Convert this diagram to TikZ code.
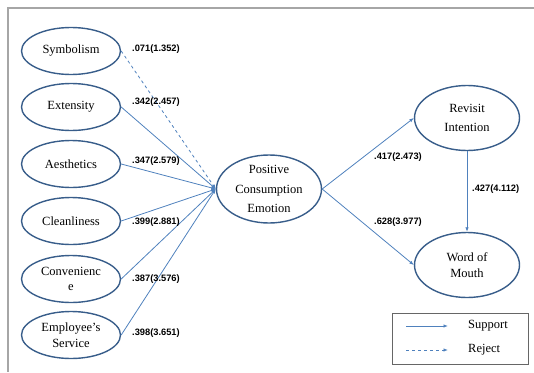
\documentclass[tikz,border=0pt]{standalone}
\usepackage{fontspec}
\setmainfont{Liberation Serif}
\newfontfamily\lblfont{Liberation Sans}
\usetikzlibrary{arrows.meta,shapes.geometric}
\definecolor{ellblue}{RGB}{56,93,138}
\definecolor{arrblue}{RGB}{79,129,189}
\begin{document}
\begin{tikzpicture}[x=1pt,y=-1pt,
    var/.style={ellipse,draw=ellblue,line width=1.4pt,minimum width=99pt,minimum height=47pt,inner sep=0pt,align=center,font=\fontsize{12.5}{15.5}\selectfont},
    path/.style={arrblue,line width=0.8pt,-{Latex[length=4.5pt,width=3.5pt]}},
    coef/.style={inner sep=0pt,anchor=west,font=\lblfont\bfseries\fontsize{9.3}{10}\selectfont}]
            \useasboundingbox (0,0) rectangle (534,372);
            \draw[gray!70,line width=1.3pt] (534,8) -- (8,8) -- (8,372);
            \node[var] (sym) at (71,51) {Symbolism};
            \node[var] (ext) at (71,107) {Extensity};
            \node[var] (aes) at (71,164) {Aesthetics};
            \node[var] (cle) at (71,221) {Cleanliness};
            \node[var] (con) at (71,279) {Convenienc\\e};
            \node[var] (emp) at (71,335) {Employee's\\Service};
            \node[var,minimum width=105pt,minimum height=68pt,font=\fontsize{12.5}{19.5}\selectfont] (pce) at (269,189) {Positive\\Consumption\\Emotion};
            \node[var,minimum width=105pt,minimum height=65pt,font=\fontsize{12.5}{19.5}\selectfont] (rev) at (467,118) {Revisit\\Intention};
            \node[var,minimum width=105pt,minimum height=65pt] (wom) at (467,265) {Word of\\Mouth};
            \draw[path,dashed] (sym.east) -- (pce.west);
            \draw[path] (ext.east) -- (pce.west);
            \draw[path] (aes.east) -- (pce.west);
            \draw[path] (cle.east) -- (pce.west);
            \draw[path] (con.east) -- (pce.west);
            \draw[path] (emp.east) -- (pce.west);
            \draw[path] (pce.east) -- (rev.west);
            \draw[path] (pce.east) -- (wom.west);
            \draw[path] (rev) -- (wom);
            \node[coef] (c1) at (132,49) {.071(1.352)};
            \node[coef] (c2) at (132,102) {.342(2.457)};
            \node[coef] (c3) at (132,161) {.347(2.579)};
            \node[coef] (c4) at (132,222) {.399(2.881)};
            \node[coef] (c5) at (132,279) {.387(3.576)};
            \node[coef] (c6) at (132,333) {.398(3.651)};
            \node[coef] (c7) at (374,157) {.417(2.473)};
            \node[coef] (c8) at (374,222) {.628(3.977)};
            \node[coef] (c9) at (472,189) {.427(4.112)};
            % legend
            \draw[gray!80!black,line width=0.7pt] (392,313) rectangle (528,364);
            \coordinate (s1) at (406,326);
            \coordinate (s2) at (448,326);
            \coordinate (r1) at (406,350);
            \coordinate (r2) at (448,350);
            \draw[path] (s1) -- (s2);
            \draw[path,dashed] (r1) -- (r2);
            \node[inner sep=0pt,anchor=west,font=\fontsize{12.5}{14}\selectfont] (sup) at (468,326) {Support};
            \node[inner sep=0pt,anchor=west,font=\fontsize{12.5}{14}\selectfont] (rej) at (468,350) {Reject};
        \end{tikzpicture}
\end{document}
